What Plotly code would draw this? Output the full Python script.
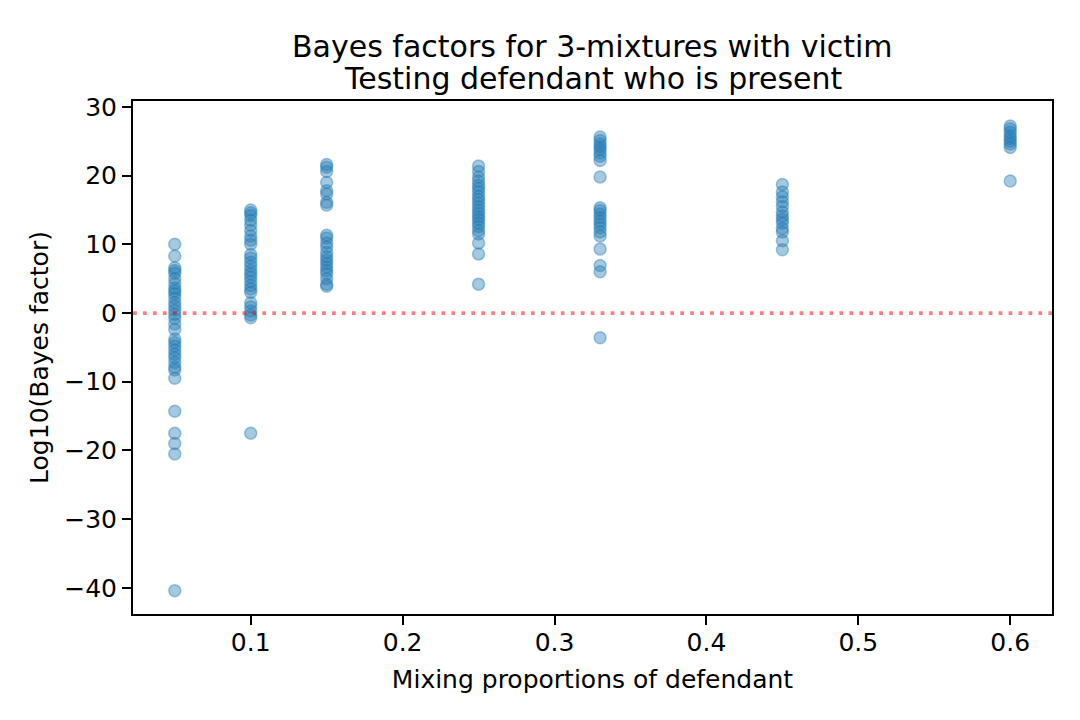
import plotly.graph_objects as go

# Mixing proportions (x categories)
MIX_PROPORTIONS = [0.05, 0.1, 0.15, 0.25, 0.33, 0.45, 0.6]

# Log10 Bayes factors per mixing proportion
BF_005 = [10.0, 8.3, 6.6, 6.2, 5.8, 5.0, 4.3, 3.6, 3.2, 2.8, 2.2, 1.5, 1.0, 0.4, -0.2,
          -0.8, -1.6, -2.4, -3.8, -4.3, -4.8, -5.4, -6.0, -6.5, -7.2, -7.9, -8.3, -9.5,
          -14.3, -17.5, -19.0, -20.5, -40.4]
BF_010 = [15.0, 14.6, 14.2, 13.5, 12.8, 12.0, 11.2, 10.6, 10.0, 8.5, 8.0, 7.4, 6.8, 6.2,
          5.7, 5.2, 4.6, 4.0, 3.5, 3.0, 1.5, 0.9, 0.3, -0.3, -0.7, -17.5]
BF_015 = [21.6, 21.2, 20.6, 19.0, 17.8, 17.3, 16.1, 15.7, 11.3, 10.9, 10.2, 9.6, 8.8, 8.2,
          7.7, 7.2, 6.7, 6.2, 5.7, 5.0, 4.2, 3.9]
BF_025 = [21.4, 20.6, 19.8, 19.2, 18.6, 18.1, 17.6, 17.0, 16.5, 16.0, 15.5, 15.0, 14.5,
          14.0, 13.6, 13.1, 12.6, 12.0, 11.5, 10.2, 8.6, 4.2]
BF_033 = [25.6, 25.1, 24.6, 24.2, 23.8, 23.3, 22.8, 22.2, 19.8, 15.3, 14.9, 14.4, 13.9,
          13.4, 12.9, 12.4, 11.8, 11.2, 9.3, 6.9, 6.0, -3.6]
BF_045 = [18.7, 17.6, 16.9, 16.2, 15.5, 14.7, 14.1, 13.6, 13.1, 12.3, 11.8, 10.5, 9.2]
BF_060 = [27.2, 26.8, 26.3, 25.8, 25.4, 25.0, 24.6, 24.1, 19.2]

X_TICKS = [0.1, 0.2, 0.3, 0.4, 0.5, 0.6]
Y_TICKS = [-40, -30, -20, -10, 0, 10, 20, 30]

groups = [BF_005, BF_010, BF_015, BF_025, BF_033, BF_045, BF_060]
xs, ys = [], []
for p, vals in zip(MIX_PROPORTIONS, groups):
    xs += [p] * len(vals)
    ys += vals

FONT = "DejaVu Sans"
PT_COLOR = "rgba(31,119,180,0.4)"

fig = go.Figure()
fig.add_trace(go.Scatter(
    x=xs, y=ys, mode="markers",
    marker=dict(size=12, color=PT_COLOR, line=dict(color=PT_COLOR, width=1.5)),
    hoverinfo="skip", showlegend=False,
))

fig.add_shape(type="line", xref="paper", yref="y", x0=0, x1=1, y0=0, y1=0,
              line=dict(color="rgba(255,0,0,0.5)", width=3.75, dash="3.75px,6.2px"))

axis_common = dict(
    showgrid=False, zeroline=False, showline=True, linecolor="black", linewidth=2,
    mirror=True, ticks="outside", ticklen=9, tickwidth=2, tickcolor="black",
    tickfont=dict(family=FONT, size=25, color="black"),
)

# the page body has an 8px margin, so the figure is made 8px smaller and shifted
fig.update_layout(
    width=1072, height=712,
    paper_bgcolor="white", plot_bgcolor="white",
    margin=dict(l=125, r=28, t=93, b=106),
    font=dict(family=FONT, size=25, color="black"),
    xaxis=dict(range=[0.0225, 0.6275], tickvals=X_TICKS,
               ticktext=[str(v) for v in X_TICKS], ticklabelstandoff=-4,
               title=dict(text="Mixing proportions of defendant",
                          font=dict(family=FONT, size=25, color="black"), standoff=14),
               **axis_common),
    yaxis=dict(range=[-43.8, 30.85], tickvals=Y_TICKS,
               title=dict(text="Log10(Bayes factor)",
                          font=dict(family=FONT, size=25, color="black"), standoff=8),
               **axis_common),
    annotations=[
        dict(text="Bayes factors for 3-mixtures with victim", xref="paper", yref="paper",
             x=0.5, y=1 + (101 - 46) / 513, xanchor="center", yanchor="middle",
             showarrow=False, font=dict(family=FONT, size=30, color="black")),
        dict(text="Testing defendant who is present", xref="paper", yref="paper",
             x=0.5, y=1 + (101 - 78) / 513, xanchor="center", yanchor="middle",
             showarrow=False, font=dict(family=FONT, size=30, color="black")),
    ],
)

fig.write_html("out.html")
